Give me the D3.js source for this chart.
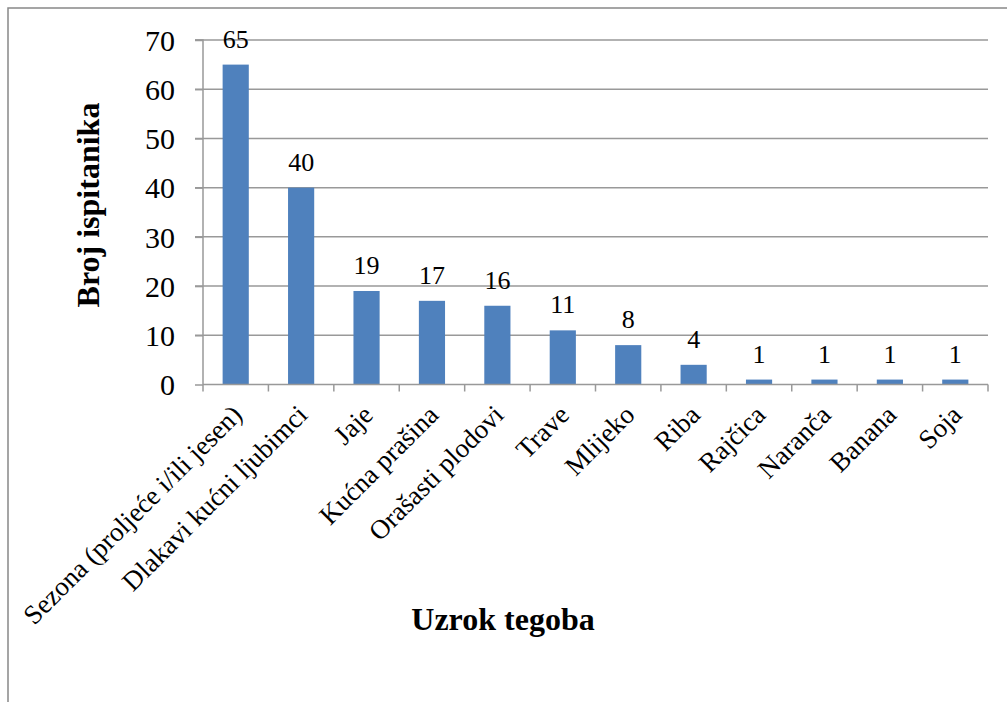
<!DOCTYPE html>
<html><head><meta charset="utf-8">
<script src="https://cdn.jsdelivr.net/npm/d3@7"></script>
<style>body{margin:0;background:#fff}svg{display:block}</style>
</head><body>
<script>
const categories = ["Sezona (proljeće i/ili jesen)","Dlakavi kućni ljubimci","Jaje","Kućna prašina","Orašasti plodovi","Trave","Mlijeko","Riba","Rajčica","Naranča","Banana","Soja"];
const values = [65,40,19,17,16,11,8,4,1,1,1,1];
const yTicks = [0,10,20,30,40,50,60,70];
const xTitle = "Uzrok tegoba";
const yTitle = "Broj ispitanika";

const FONT = "'Liberation Serif', 'Times New Roman', serif";
const W = 1007, H = 702;
const svg = d3.select("body").append("svg").attr("width", W).attr("height", H)
  .attr("font-family", FONT);

// frame
svg.append("rect").attr("x", 8).attr("y", 8).attr("width", 1010).attr("height", 710)
  .attr("fill", "none").attr("stroke", "#888").attr("stroke-width", 1.5);

const x0 = 203, x1 = 988, yTop = 40, yBot = 384.5;
const x = d3.scaleBand().domain(categories).range([x0, x1]).paddingInner(0.6).paddingOuter(0.3);
const xb = d3.scaleBand().domain(categories).range([x0, x1]);
const y = d3.scaleLinear().domain([0, 70]).range([yBot, yTop]);

// gridlines
svg.append("g").selectAll("line").data(yTicks.filter(d => d > 0)).join("line")
  .attr("x1", x0 - 8).attr("x2", x1).attr("y1", d => y(d)).attr("y2", d => y(d))
  .attr("stroke", "#999").attr("stroke-width", 1.5);

// y axis
const ya = svg.append("g").attr("transform", `translate(${x0},0)`)
  .call(d3.axisLeft(y).tickValues(yTicks).tickSize(8).tickPadding(20));
ya.attr("font-family", FONT);
ya.select(".domain").attr("stroke", "#999").attr("stroke-width", 1.5).attr("d", `M-8,${yTop}H0V${yBot}`);
ya.selectAll(".tick line").attr("stroke", "#999").attr("stroke-width", 1.5);
ya.selectAll(".tick text").attr("font-size", 30).attr("font-family", FONT).attr("fill", "#000").attr("dy", "0.34em");

// bars
svg.append("g").selectAll("rect").data(values).join("rect")
  .attr("x", (d, i) => x(categories[i])).attr("width", x.bandwidth())
  .attr("y", d => y(d)).attr("height", d => yBot - y(d))
  .attr("fill", "#4F81BD");

// x axis
const xa = svg.append("g").attr("transform", `translate(0,${yBot})`)
  .call(d3.axisBottom(xb).tickSize(0).tickFormat(""));
xa.select(".domain").attr("stroke", "#999").attr("stroke-width", 1.5).attr("d", `M${x0},0H${x1}`);
const edges = categories.map(c => xb(c)).concat([x1]);
xa.selectAll("line.edge").data(edges).join("line").attr("class", "edge")
  .attr("x1", d => d).attr("x2", d => d).attr("y1", 0).attr("y2", 7)
  .attr("stroke", "#999").attr("stroke-width", 1.5);

// category labels
svg.append("g").selectAll("text").data(categories).join("text")
  .attr("transform", d => `translate(${xb(d) + xb.bandwidth() / 2 + 8},${yBot + 32}) rotate(-45)`)
  .attr("text-anchor", "end").attr("font-size", 27).attr("font-family", FONT).attr("fill", "#000")
  .text(d => d);

// data labels
svg.append("g").selectAll("text").data(values).join("text")
  .attr("x", (d, i) => x(categories[i]) + x.bandwidth() / 2)
  .attr("y", d => y(d) - 17)
  .attr("text-anchor", "middle").attr("font-size", 26).attr("font-family", FONT).attr("fill", "#000")
  .text(d => d);

// titles
svg.append("text").attr("x", 503).attr("y", 630).attr("text-anchor", "middle").attr("font-family", FONT)
  .attr("font-size", 32).attr("font-weight", "bold").text(xTitle);
svg.append("text").attr("transform", "translate(99,205) rotate(-90)").attr("text-anchor", "middle").attr("font-family", FONT)
  .attr("font-size", 32).attr("font-weight", "bold").text(yTitle);
</script>
</body></html>
